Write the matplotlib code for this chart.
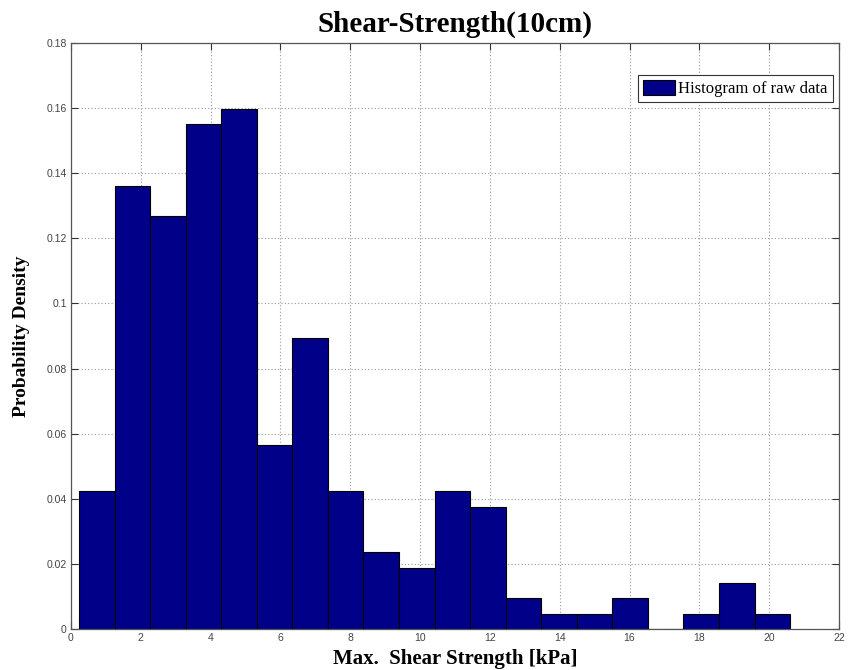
import numpy as np
import matplotlib.pyplot as plt
from matplotlib.ticker import FuncFormatter

# histogram: 20 bins between ~0.23 and ~20.6 kPa
bin_edges = np.linspace(0.23, 20.6, 21)
density = [0.0423, 0.1362, 0.1268, 0.1550, 0.1597, 0.0564, 0.0893, 0.0423,
           0.0235, 0.0188, 0.0423, 0.0376, 0.0094, 0.0047, 0.0047, 0.0094,
           0.0, 0.0047, 0.0141, 0.0047]
x_ticks = list(range(0, 23, 2))
y_ticks = [0, 0.02, 0.04, 0.06, 0.08, 0.1, 0.12, 0.14, 0.16, 0.18]

serif = ['Liberation Serif', 'DejaVu Serif']
sans = ['Liberation Sans', 'DejaVu Sans']

fig = plt.figure(figsize=(8.54, 6.70), dpi=100)
ax = fig.add_axes([0.0831, 0.0612, 0.8993, 0.8746])

ax.bar(bin_edges[:-1], density, width=np.diff(bin_edges), align='edge',
       color='#000088', edgecolor='black', linewidth=0.8,
       label='Histogram of raw data', zorder=2)

ax.set_xlim(0, 22)
ax.set_ylim(0, 0.18)
ax.set_xticks(x_ticks)
ax.set_yticks(y_ticks)
ax.yaxis.set_major_formatter(FuncFormatter(lambda v, p: '%g' % v))
ax.tick_params(direction='in', length=5, width=0.8, top=True, right=True,
               labelsize=7.5, labelcolor='#444444', color='#333333', pad=3)
for lab in ax.get_xticklabels() + ax.get_yticklabels():
    lab.set_family(sans)
for sp in ax.spines.values():
    sp.set_color('#555555')
    sp.set_linewidth(0.9)

ax.grid(True, linestyle=(0, (1, 2)), color='#999999', linewidth=0.8, zorder=0)
ax.set_axisbelow(True)

ax.set_title('Shear-Strength(10cm)', family=serif, fontweight='bold',
             fontsize=21, pad=8)
ax.set_xlabel('Max.  Shear Strength [kPa]', family=serif, fontweight='bold',
              fontsize=15, labelpad=4)
ax.set_ylabel('Probability Density', family=serif, fontweight='bold',
              fontsize=14, labelpad=12)

leg = ax.legend(loc='upper right', bbox_to_anchor=(0.992, 0.945),
                prop={'family': serif, 'size': 12}, fancybox=False,
                framealpha=1, edgecolor='#333333', borderpad=0.3,
                handlelength=1.9, handleheight=1.0, handletextpad=0.2,
                borderaxespad=0)
leg.get_frame().set_linewidth(0.8)

fig.savefig('out.png', dpi=100)
